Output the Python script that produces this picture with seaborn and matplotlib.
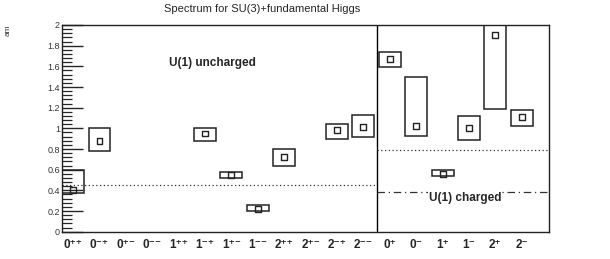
import numpy as np
import pandas as pd
import matplotlib
matplotlib.use('Agg')
import matplotlib.pyplot as plt
from matplotlib.ticker import MultipleLocator
import seaborn as sns

# states, uncharged sector first, then charged
states = ['0++', '0-+', '0+-', '0--', '1++', '1-+', '1+-', '1--',
          '2++', '2+-', '2-+', '2--', '0+', '0-', '1+', '1-', '2+', '2-']
mass = [0.40, 0.88, np.nan, np.nan, np.nan, 0.95, 0.55, 0.22,
        0.72, np.nan, 0.98, 1.01, 1.67, 1.02, 0.56, 1.00, 1.90, 1.11]
low = [0.37, 0.78, np.nan, np.nan, np.nan, 0.88, 0.52, 0.20,
       0.64, np.nan, 0.90, 0.92, 1.59, 0.93, 0.54, 0.89, 1.19, 1.02]
high = [0.60, 1.00, np.nan, np.nan, np.nan, 1.00, 0.58, 0.255,
        0.80, np.nan, 1.04, 1.13, 1.74, 1.50, 0.60, 1.12, 2.00, 1.18]
n_uncharged = 12
thresh_uncharged = 0.45
thresh_charged = 0.79
thresh_charged2 = 0.38

df = pd.DataFrame({'state': states, 'mass': mass, 'low': low, 'high': high})
df['pos'] = np.arange(len(df))

SUP = {'+': '\u207a', '-': '\u207b'}


def tick_label(s):
    # spin number with P/C signs as superscript
    return s[0] + ''.join(SUP[c] for c in s[1:])


sns.set_style('white')
plt.rcParams['font.family'] = ['Liberation Sans', 'DejaVu Sans']

fig = plt.figure(figsize=(6.1, 2.59), dpi=100)
ax = fig.add_axes([0.1016, 0.1054, 0.7984, 0.7981])

# error boxes
ax.bar(df['pos'], df['high'] - df['low'], bottom=df['low'], width=0.83,
       fill=False, edgecolor='#222222', linewidth=1.1)
sns.scatterplot(data=df, x='pos', y='mass', marker='s', s=18,
                facecolor='none', edgecolor='#222222', linewidth=1.0, ax=ax)

div = n_uncharged - 0.5
ax.axvline(div, color='black', lw=1.0)
ax.plot([-0.42, div], [thresh_uncharged] * 2, color='#333333', ls=(0, (1, 2)), lw=0.9)
ax.plot([div, 18.03], [thresh_charged] * 2, color='#333333', ls=(0, (1, 2)), lw=0.9)
ax.plot([div, 18.03], [thresh_charged2] * 2, color='#333333', ls=(0, (6, 3, 1, 3)), lw=0.9)

ax.text(5.27, 1.635, 'U(1) uncharged', ha='center', va='center',
        fontsize=8.5, fontweight='bold')
ax.text(14.85, 0.33, 'U(1) charged', ha='center', va='center',
        fontsize=8.5, fontweight='bold',
        bbox=dict(facecolor='white', edgecolor='none', pad=0.5))

ax.set_xlim(-0.42, 18.03)
ax.set_ylim(0, 2)
ax.set_xticks(df['pos'])
ax.set_xticklabels([tick_label(s) for s in states], fontsize=8.5,
                   fontweight='bold')
ax.tick_params(axis='x', length=0, pad=5)
ax.yaxis.set_major_locator(MultipleLocator(0.2))
ax.yaxis.set_minor_locator(MultipleLocator(0.04))
ax.set_yticks(np.arange(0, 2.01, 0.2))
ax.set_yticklabels(['0', '0.2', '0.4', '0.6', '0.8', '1', '1.2', '1.4',
                    '1.6', '1.8', '2'], fontsize=6.5, color='#333333')
ax.tick_params(axis='y', which='major', direction='in', length=15, width=1.0,
               pad=1.5, left=True)
ax.tick_params(axis='y', which='minor', direction='in', length=7, width=0.9,
               left=True)
ax.set_xlabel('')
ax.set_ylabel('')
for sp in ax.spines.values():
    sp.set_color('#222222')
    sp.set_linewidth(1.0)

fig.text(0.429, 0.964, 'Spectrum for SU(3)+fundamental Higgs',
         ha='center', va='center', fontsize=8)
fig.text(0.014, 0.884, 'am', rotation=90, ha='center', va='center',
         fontsize=6, color='#333333')

fig.savefig('out.png', dpi=100)
